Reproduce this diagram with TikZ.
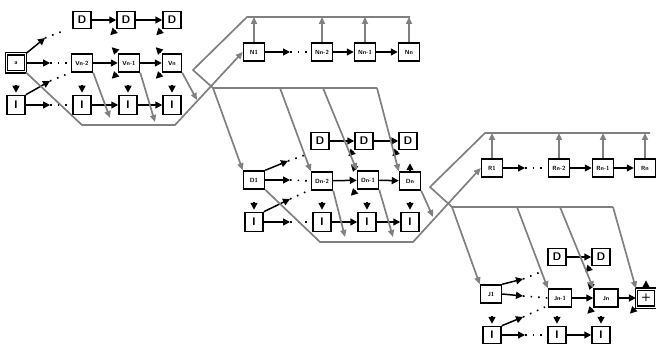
\documentclass[tikz,border=0pt]{standalone}
\usepackage{tikz}
\usetikzlibrary{arrows.meta}
\begin{document}
\begin{tikzpicture}[x=1pt, y=-1pt,
    box/.style={draw, line width=1.5pt, fill=white, inner sep=0pt,
      minimum width=21pt, minimum height=18pt,
      font=\sffamily\bfseries\fontsize{6}{6}\selectfont},
    big/.style={box, minimum width=18pt, minimum height=17pt,
      font=\sffamily\bfseries\fontsize{11}{11}\selectfont},
    dbl/.style={box, minimum width=19pt, double, double distance=1pt, line width=1.2pt},
    blk/.style={line width=1.5pt, -{Triangle[length=7pt,width=7pt]}},
    dots/.style={line width=1.6pt, dash pattern=on 1.6pt off 6pt},
    gline/.style={draw=gray, line width=1.7pt},
    garr/.style={gline, -{Triangle[length=7pt,width=6pt]}}]
  \useasboundingbox (0,0) rectangle (656,350);

  % Block 1
  \node[dbl] (a) at (16,63) {a};
  \node[big] (da1) at (82,20) {D};
  \node[big] (da2) at (126,20) {D};
  \node[big] (da3) at (172,20) {D};
  \node[box] (v1) at (82,63) {Vn-2};
  \node[box] (v2) at (129,63) {Vn-1};
  \node[box, minimum width=19pt] (v3) at (172,63) {Vn};
  \node[big, minimum height=19pt] (ia0) at (16,105) {I};
  \node[big, minimum height=19pt] (ia1) at (82,105) {I};
  \node[big, minimum height=19pt] (ia2) at (128,105) {I};
  \node[big, minimum height=19pt] (ia3) at (172,105) {I};
  \coordinate (a1) at (45,38);  \coordinate (a1e) at (63,31);
  \coordinate (a2) at (50,63);
  \coordinate (a3) at (50,81);  \coordinate (a3e) at (67,74);
  \coordinate (a4) at (50,105);
  \draw[blk] (a.north east) -- (a1);  \draw[dots] (a1) -- (a1e);
  \draw[blk] (a.east) -- (a2);        \draw[dots] (a2) -- (v1.west);
  \draw[blk] (ia0.north east) -- (a3); \draw[dots] (a3) -- (a3e);
  \draw[blk] (ia0.east) -- (a4);      \draw[dots] (a4) -- (ia1.west);
  \draw[blk] (da1) -- (da2);  \draw[blk] (da2) -- (da3);
  \draw[blk] (v1) -- (v2);    \draw[blk] (v2) -- (v3);
  \draw[blk] (ia1) -- (ia2);  \draw[blk] (ia2) -- (ia3);
  \foreach \b in {ia0,ia1,ia2,ia3}
    \draw[blk] ([yshift=10pt]\b.north) -- ([yshift=2pt]\b.north);
  \foreach \b in {da2,da3,v2,v3}
    \draw[blk] ([shift={(-1,1)}]\b.south west) -- ++(-5,5);
  \foreach \b in {v2,v3}
    \draw[blk] ([shift={(-1,-1)}]\b.north west) -- ++(-5,-5);

  % Row N
  \node[box] (n1) at (254,52) {N1};
  \node[box] (n2) at (322,52) {Nn-2};
  \node[box] (n3) at (365,52) {Nn-1};
  \node[box] (n4) at (409,52) {Nn};
  \coordinate (nb) at (290,52);
  \draw[blk] (n1) -- (nb);  \draw[dots] (nb) -- (n2.west);
  \draw[blk] (n2) -- (n3);  \draw[blk] (n3) -- (n4);

  % Block 2
  \node[big] (db1) at (320,141) {D};
  \node[big] (db2) at (364,141) {D};
  \node[big] (db3) at (408,141) {D};
  \node[box] (d1) at (254,180) {D1};
  \node[box] (d2) at (322,181) {Dn-2};
  \node[box] (d3) at (368,180) {Dn-1};
  \node[box] (d4) at (410,181) {Dn};
  \node[big, minimum height=19pt] (ib0) at (254,222) {I};
  \node[big, minimum height=19pt] (ib1) at (322,222) {I};
  \node[big, minimum height=19pt] (ib2) at (367,222) {I};
  \node[big, minimum height=19pt] (ib3) at (410,222) {I};
  \coordinate (b1) at (288,161);  \coordinate (b1e) at (305,155);
  \coordinate (b2) at (290,180);
  \coordinate (b3) at (290,199);  \coordinate (b3e) at (310,190);
  \coordinate (b4) at (290,222);
  \draw[blk] (d1.north east) -- (b1);  \draw[dots] (b1) -- (b1e);
  \draw[blk] (d1.east) -- (b2);        \draw[dots] (b2) -- (d2.west);
  \draw[blk] (ib0.north east) -- (b3); \draw[dots] (b3) -- (b3e);
  \draw[blk] (ib0.east) -- (b4);       \draw[dots] (b4) -- (ib1.west);
  \draw[blk] (db1) -- (db2);  \draw[blk] (db2) -- (db3);
  \draw[blk] (d2) -- (d3);    \draw[blk] (d3) -- (d4);
  \draw[blk] (ib1) -- (ib2);  \draw[blk] (ib2) -- (ib3);
  \foreach \b in {ib0,ib1,ib2,ib3}
    \draw[blk] ([yshift=10pt]\b.north) -- ([yshift=2pt]\b.north);
  \foreach \b in {db2,db3,d3}
    \draw[blk] ([shift={(-1,1)}]\b.south west) -- ++(-5,5);
  \draw[blk] ([shift={(-1,-1)}]d3.north west) -- ++(-5,-5);
  \draw[blk] ([yshift=1pt]d4.north) -- ++(0,-7);

  % Row R
  \node[box] (r1) at (492,168) {R1};
  \node[box] (r2) at (559,168) {Rn-2};
  \node[box] (r3) at (603,168) {Rn-1};
  \node[box] (r4) at (645,168) {Rn};
  \coordinate (rb) at (525,168);
  \draw[blk] (r1) -- (rb);  \draw[dots] (rb) -- (r2.west);
  \draw[blk] (r2) -- (r3);  \draw[blk] (r3) -- (r4);

  % Block 4
  \node[big] (dc1) at (557,257) {D};
  \node[big] (dc2) at (601,257) {D};
  \node[box] (j1) at (491,294) {J1};
  \node[box, minimum width=23pt] (j2) at (560,298) {Jn-1};
  \node[box, minimum width=24pt] (j3) at (606,298) {Jn};
  \node[dbl, font=\sffamily\bfseries\fontsize{11}{11}\selectfont] (p) at (646,298) {+};
  \node[big] (ic0) at (492,335) {I};
  \node[big] (ic1) at (557,335) {I};
  \node[big] (ic2) at (601,335) {I};
  \coordinate (c1) at (523,279);  \coordinate (c1e) at (543,271);
  \coordinate (c2) at (523,296);
  \coordinate (c3) at (523,317);  \coordinate (c3e) at (545,307);
  \coordinate (c4) at (525,335);
  \draw[blk] (j1.north east) -- (c1);  \draw[dots] (c1) -- (c1e);
  \draw[blk] (j1.east) -- (c2);        \draw[dots] (c2) -- (j2.west);
  \draw[blk] (ic0.north east) -- (c3); \draw[dots] (c3) -- (c3e);
  \draw[blk] (ic0.east) -- (c4);       \draw[dots] (c4) -- (ic1.west);
  \draw[blk] (dc1) -- (dc2);
  \draw[blk] (j2) -- (j3);    \draw[blk] (j3) -- (p);
  \draw[blk] (ic1) -- (ic2);
  \foreach \b in {ic0,ic1,ic2}
    \draw[blk] ([yshift=10pt]\b.north) -- ([yshift=2pt]\b.north);
  \foreach \b in {dc2,j3,p}
    \draw[blk] ([shift={(-1,1)}]\b.south west) -- ++(-5,5);
  \draw[blk] ([shift={(-1,-1)}]j3.north west) -- ++(-5,-5);
  \draw[blk] ([yshift=1pt]p.north) -- ++(0,-7);

  % gray links, first stage
  \coordinate (g1) at (82,125);  \coordinate (g2) at (175,125);
  \coordinate (g3) at (193,70);  \coordinate (g4) at (247,17);
  \coordinate (g5) at (213,88);  \coordinate (g6) at (377,88);
  \coordinate (g7) at (410,17);
  \draw[garr] (a.south east) -- (g1) -- (g2) -- (n1.west);
  \draw[gline] (g7) -- (g4) -- (g3) -- (g5) -- (g6);
  \foreach \b in {n1,n2,n3,n4}
    \draw[garr] (\b.north) -- (\b.north |- g4);
  \draw[garr] (v1.south east) -- (110,118);
  \draw[garr] (v2.south east) -- (155,122);
  \draw[garr] (v3.south east) -- (197,100);
  \draw[garr] (g5) -- (d1.north west);
  \draw[garr] (280,88) -- (d2.north west);
  \draw[garr] (323,88) -- (d3.north west);
  \draw[garr] (g6) -- (d4.north west);

  % gray links, second stage
  \coordinate (h1) at (320,242);  \coordinate (h2) at (413,242);
  \coordinate (h3) at (430,187);  \coordinate (h4) at (485,133);
  \coordinate (h5) at (452,207);  \coordinate (h6) at (613,207);
  \coordinate (h7) at (650,133);
  \draw[garr] (d1.south east) -- (h1) -- (h2) -- (r1.west);
  \draw[gline] (h7) -- (h4) -- (h3) -- (h5) -- (h6);
  \foreach \b in {r1,r2,r3,r4}
    \draw[garr] (\b.north) -- (\b.north |- h4);
  \draw[garr] (d2.south east) -- (345,237);
  \draw[garr] (d3.south east) -- (393,237);
  \draw[garr] (d4.south east) -- (433,217);
  \draw[garr] (h5) -- (j1.north west);
  \draw[garr] (517,207) -- (j2.north west);
  \draw[garr] (560,207) -- (j3.north west);
  \draw[garr] (h6) -- (p.north west);
\end{tikzpicture}
\end{document}
